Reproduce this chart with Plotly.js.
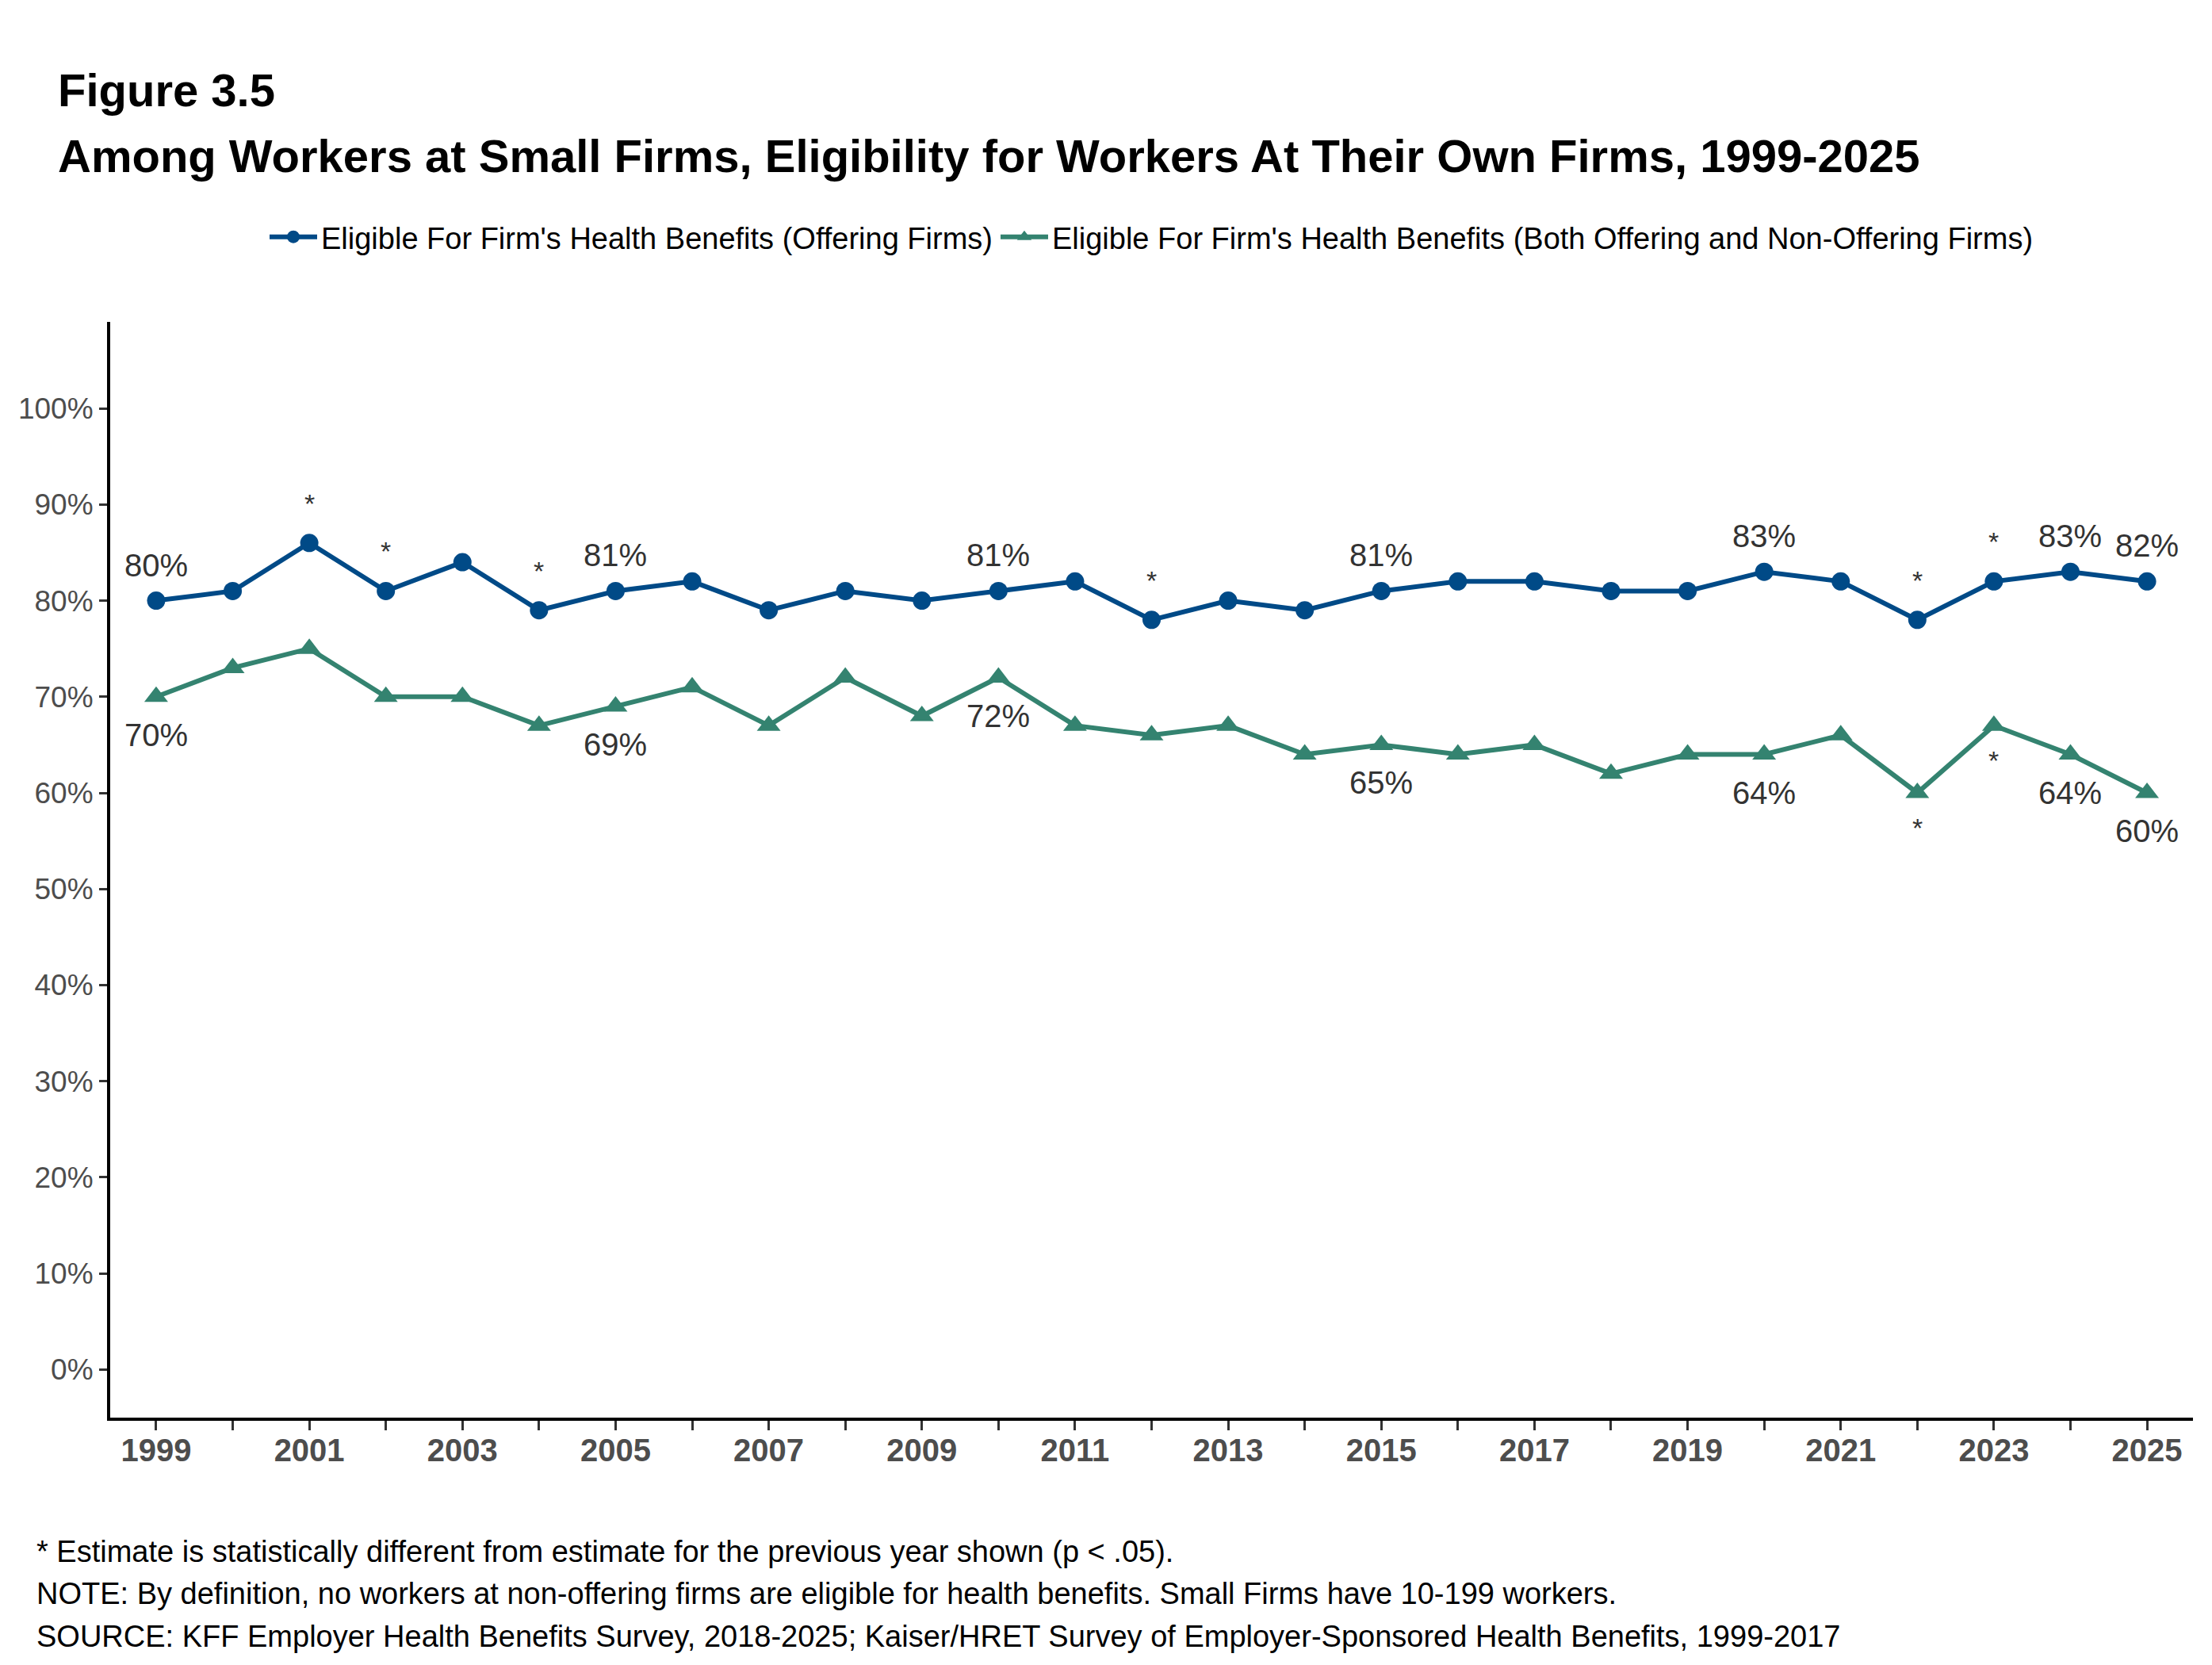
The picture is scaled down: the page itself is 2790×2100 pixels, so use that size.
<!DOCTYPE html>
<html>
<head>
<meta charset="utf-8">
<script src="https://cdn.plot.ly/plotly-3.0.1.min.js"></script>
<style>
  html, body { margin: 0; padding: 0; background: #fff; }
  #chart { width: 2790px; height: 2100px; }
</style>
</head>
<body>
<div id="chart"></div>
<script>
// datos
var years = [1999, 2000, 2001, 2002, 2003, 2004, 2005, 2006, 2007, 2008, 2009, 2010, 2011, 2012,
             2013, 2014, 2015, 2016, 2017, 2018, 2019, 2020, 2021, 2022, 2023, 2024, 2025];
var offering = [80, 81, 86, 81, 84, 79, 81, 82, 79, 81, 80, 81, 82, 78,
                80, 79, 81, 82, 82, 81, 81, 83, 82, 78, 82, 83, 82];
var allFirms = [70, 73, 75, 70, 70, 67, 69, 71, 67, 72, 68, 72, 67, 66,
                67, 64, 65, 64, 65, 62, 64, 64, 66, 60, 67, 64, 60];

var labeledYears = [1999, 2005, 2010, 2015, 2020, 2024, 2025];
var starsOffering = [2001, 2002, 2004, 2012, 2022, 2023];
var starsAll = [2022, 2023];

var tickYears = years;
var tickText = years.map(y => (y % 2 === 1 ? String(y) : ''));
var yTicks = [0, 10, 20, 30, 40, 50, 60, 70, 80, 90, 100];
var yTickText = yTicks.map(v => v + '%');

var serieNames = ["Eligible For Firm's Health Benefits (Offering Firms)",
                  "Eligible For Firm's Health Benefits (Both Offering and Non-Offering Firms)"];
var colorAzul = '#004A87';
var colorVerde = '#348370';
var FONT = 'Liberation Sans, Arial, sans-serif';

var traceOffering = {
    x: years, y: offering, name: serieNames[0],
    type: 'scatter', mode: 'lines+markers',
    line: {color: colorAzul, width: 6},
    marker: {symbol: 'circle', size: 23, color: colorAzul}
};
var traceAll = {
    x: years, y: allFirms, name: serieNames[1],
    type: 'scatter', mode: 'lines+markers',
    line: {color: colorVerde, width: 6},
    marker: {symbol: 'triangle-up', size: 26, color: colorVerde}
};

function valorDe(serie, yr) {
    return serie[years.indexOf(yr)];
}

var annotations = [];
// etiquetas de porcentaje
labeledYears.forEach(function (yr) {
    annotations.push({x: yr, y: valorDe(offering, yr), text: valorDe(offering, yr) + '%',
        showarrow: false, yshift: 45, font: {family: FONT, size: 40, color: '#333333'}});
    annotations.push({x: yr, y: valorDe(allFirms, yr), text: valorDe(allFirms, yr) + '%',
        showarrow: false, yshift: -48, font: {family: FONT, size: 40, color: '#333333'}});
});
// asteriscos
starsOffering.forEach(function (yr) {
    annotations.push({x: yr, y: valorDe(offering, yr), text: '*',
        showarrow: false, yshift: 50, font: {family: FONT, size: 34, color: '#333333'}});
});
starsAll.forEach(function (yr) {
    annotations.push({x: yr, y: valorDe(allFirms, yr), text: '*',
        showarrow: false, yshift: -44, font: {family: FONT, size: 34, color: '#333333'}});
});

// titulos y notas
var textos = [
    {text: '<b>Figure 3.5</b>', y: 114, size: 58},
    {text: '<b>Among Workers at Small Firms, Eligibility for Workers At Their Own Firms, 1999-2025</b>', y: 196, size: 58},
    {text: '* Estimate is statistically different from estimate for the previous year shown (p < .05).', y: 1957, size: 38, x: 44},
    {text: 'NOTE: By definition, no workers at non-offering firms are eligible for health benefits. Small Firms have 10-199 workers.', y: 2010, size: 38, x: 44},
    {text: 'SOURCE: KFF Employer Health Benefits Survey, 2018-2025; Kaiser/HRET Survey of Employer-Sponsored Health Benefits, 1999-2017', y: 2064, size: 38, x: 44}
];
textos.forEach(function (t) {
    annotations.push({
        xref: 'paper', yref: 'paper',
        x: ((t.x || 71) - 139) / (2766 - 139),
        y: (1788 - t.y) / (1788 - 406),
        xanchor: 'left', yanchor: 'middle', showarrow: false, align: 'left',
        text: t.text, font: {family: FONT, size: t.size, color: '#000000'}
    });
});

var layout = {
    width: 2790, height: 2100,
    margin: {l: 139, r: 24, t: 406, b: 312},
    paper_bgcolor: '#ffffff', plot_bgcolor: '#ffffff',
    showlegend: true,
    legend: {
        orientation: 'h', x: 0.5, xanchor: 'center', y: (1788 - 299) / (1788 - 406), yanchor: 'middle',
        font: {family: FONT, size: 38, color: '#000000'},
        itemwidth: 60, tracegroupgap: 0
    },
    xaxis: {
        range: [1998.4, 2025.6],
        tickmode: 'array', tickvals: tickYears, ticktext: tickText,
        showgrid: false, zeroline: false,
        showline: true, linecolor: '#000000', linewidth: 4,
        ticks: 'outside', ticklen: 12, tickwidth: 3, tickcolor: '#333333',
        ticklabelstandoff: -9,
        tickfont: {family: FONT, size: 40, color: '#4d4d4d', weight: 'bold'}
    },
    yaxis: {
        range: [-5, 109],
        tickmode: 'array', tickvals: yTicks, ticktext: yTickText,
        showgrid: false, zeroline: false,
        showline: true, linecolor: '#000000', linewidth: 4,
        ticks: 'outside', ticklen: 10, tickwidth: 3, tickcolor: '#333333',
        tickfont: {family: FONT, size: 37, color: '#4d4d4d'}
    },
    annotations: annotations
};

Plotly.newPlot('chart', [traceOffering, traceAll], layout, {staticPlot: true});
</script>
</body>
</html>
